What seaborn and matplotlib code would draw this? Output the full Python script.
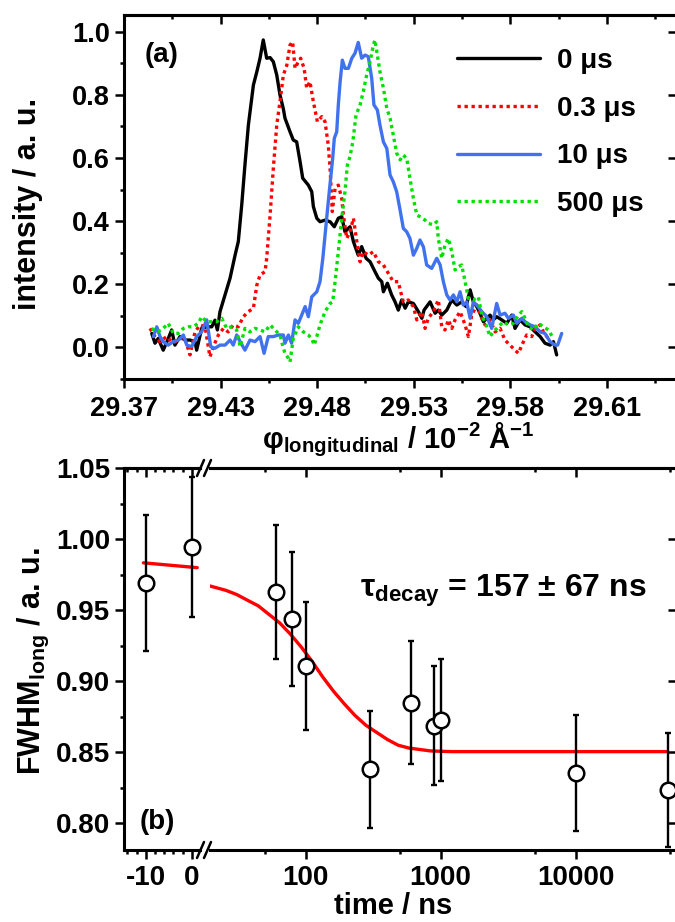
import matplotlib
matplotlib.use("Agg")
import matplotlib.pyplot as plt
import seaborn as sns
from matplotlib.ticker import FixedLocator, FixedFormatter, NullFormatter, NullLocator
from matplotlib.lines import Line2D

# ---------------- panel (a) data ----------------
black_x = [29.3838, 29.3854, 29.3870, 29.3895, 29.3920, 29.3937, 29.3953, 29.3978, 29.4003, 29.4028,
           29.4053, 29.4061, 29.4086, 29.4111, 29.4136, 29.4152, 29.4164, 29.4177, 29.4202, 29.4227,
           29.4252, 29.4268, 29.4285, 29.4301, 29.4318, 29.4343, 29.4360, 29.4376, 29.4392, 29.4409,
           29.4426, 29.4442, 29.4459, 29.4475, 29.4492, 29.4500, 29.4525, 29.4541, 29.4558, 29.4575,
           29.4588, 29.4616, 29.4633, 29.4641, 29.4658, 29.4674, 29.4699, 29.4724, 29.4745, 29.4765,
           29.4782, 29.4798, 29.4823, 29.4840, 29.4864, 29.4881, 29.4903, 29.4923, 29.4947, 29.4964,
           29.4981, 29.4989, 29.5009, 29.5030, 29.5047, 29.5063, 29.5080, 29.5097, 29.5113, 29.5138,
           29.5163, 29.5180, 29.5191, 29.5221, 29.5246, 29.5262, 29.5279, 29.5304, 29.5329, 29.5354,
           29.5378, 29.5400, 29.5420, 29.5436, 29.5453, 29.5469, 29.5486, 29.5503, 29.5519, 29.5535,
           29.5552, 29.5577, 29.5602, 29.5627, 29.5643, 29.5668, 29.5693, 29.5718, 29.5743, 29.5768,
           29.5792, 29.5817, 29.5834, 29.5850]
black_y = [0.044, 0.013, 0.028, -0.009, 0.028, 0.055, 0.007, 0.034, 0.023, 0.023,
           0.018, -0.009, 0.060, 0.065, 0.065, 0.086, 0.055, 0.113, 0.166, 0.219,
           0.292, 0.335, 0.451, 0.578, 0.704, 0.831, 0.873, 0.916, 0.974, 0.916,
           0.918, 0.905, 0.863, 0.800, 0.755, 0.726, 0.683, 0.657, 0.651, 0.588,
           0.536, 0.514, 0.493, 0.446, 0.409, 0.398, 0.403, 0.398, 0.382, 0.409,
           0.414, 0.366, 0.382, 0.335, 0.292, 0.319, 0.282, 0.271, 0.240, 0.219,
           0.208, 0.176, 0.203, 0.166, 0.144, 0.118, 0.150, 0.124, 0.144, 0.139,
           0.113, 0.092, 0.118, 0.144, 0.108, 0.118, 0.102, 0.118, 0.150, 0.134,
           0.144, 0.129, 0.182, 0.144, 0.129, 0.108, 0.081, 0.092, 0.102, 0.087,
           0.097, 0.087, 0.076, 0.102, 0.060, 0.087, 0.071, 0.065, 0.049, 0.034,
           0.013, 0.007, 0.018, -0.024]

red_x = [29.3829, 29.3854, 29.3879, 29.3912, 29.3945, 29.3978, 29.4003, 29.4028, 29.4053, 29.4078,
         29.4103, 29.4127, 29.4147, 29.4169, 29.4194, 29.4218, 29.4243, 29.4268, 29.4293, 29.4318,
         29.4343, 29.4360, 29.4376, 29.4401, 29.4409, 29.4426, 29.4442, 29.4459, 29.4475, 29.4492,
         29.4509, 29.4525, 29.4538, 29.4550, 29.4566, 29.4578, 29.4595, 29.4608, 29.4624, 29.4641,
         29.4661, 29.4683, 29.4699, 29.4715, 29.4724, 29.4735, 29.4749, 29.4765, 29.4782, 29.4790,
         29.4807, 29.4823, 29.4840, 29.4857, 29.4873, 29.4889, 29.4914, 29.4939, 29.4964, 29.4989,
         29.5014, 29.5038, 29.5063, 29.5075, 29.5088, 29.5113, 29.5138, 29.5155, 29.5180, 29.5196,
         29.5212, 29.5237, 29.5262, 29.5279, 29.5295, 29.5312, 29.5329, 29.5345, 29.5370, 29.5395,
         29.5411, 29.5428, 29.5453, 29.5478, 29.5494, 29.5519, 29.5544, 29.5569, 29.5593, 29.5618,
         29.5643, 29.5660, 29.5677, 29.5701, 29.5726, 29.5743, 29.5768, 29.5784, 29.5801, 29.5817]
red_y = [0.060, 0.034, 0.018, 0.034, 0.013, 0.028, 0.028, -0.024, 0.049, 0.071,
         0.065, -0.030, 0.007, 0.039, 0.060, 0.049, 0.071, 0.065, 0.097, 0.113,
         0.124, 0.197, 0.229, 0.240, 0.282, 0.419, 0.567, 0.704, 0.778, 0.863,
         0.894, 0.958, 0.968, 0.884, 0.905, 0.916, 0.884, 0.821, 0.842, 0.778,
         0.715, 0.731, 0.715, 0.641, 0.567, 0.430, 0.504, 0.514, 0.472, 0.419,
         0.345, 0.366, 0.409, 0.335, 0.271, 0.303, 0.292, 0.303, 0.271, 0.261,
         0.234, 0.208, 0.208, 0.176, 0.144, 0.150, 0.129, 0.087, 0.113, 0.060,
         0.092, 0.113, 0.150, 0.065, 0.055, 0.087, 0.060, 0.087, 0.113, 0.071,
         0.034, 0.102, 0.134, 0.092, 0.071, 0.087, 0.049, 0.060, 0.023, 0.007,
         -0.009, -0.019, 0.007, 0.039, 0.034, 0.060, 0.071, 0.049, 0.034, 0.023]

blue_x = [29.3846, 29.3863, 29.3879, 29.3895, 29.3920, 29.3945, 29.3970, 29.3995, 29.4012, 29.4036,
          29.4061, 29.4086, 29.4111, 29.4131, 29.4152, 29.4177, 29.4202, 29.4227, 29.4243, 29.4260,
          29.4277, 29.4301, 29.4326, 29.4351, 29.4376, 29.4396, 29.4417, 29.4442, 29.4467, 29.4492,
          29.4500, 29.4517, 29.4533, 29.4550, 29.4566, 29.4583, 29.4600, 29.4616, 29.4633, 29.4658,
          29.4674, 29.4688, 29.4704, 29.4720, 29.4737, 29.4745, 29.4757, 29.4765, 29.4774, 29.4785,
          29.4798, 29.4815, 29.4832, 29.4848, 29.4864, 29.4881, 29.4898, 29.4914, 29.4931, 29.4942,
          29.4959, 29.4972, 29.4989, 29.5006, 29.5022, 29.5038, 29.5055, 29.5072, 29.5088, 29.5105,
          29.5121, 29.5138, 29.5155, 29.5171, 29.5188, 29.5204, 29.5229, 29.5254, 29.5271, 29.5287,
          29.5304, 29.5320, 29.5337, 29.5354, 29.5370, 29.5386, 29.5403, 29.5420, 29.5436, 29.5453,
          29.5478, 29.5503, 29.5527, 29.5552, 29.5569, 29.5593, 29.5610, 29.5635, 29.5652, 29.5677,
          29.5693, 29.5718, 29.5743, 29.5768, 29.5792, 29.5817, 29.5842, 29.5855, 29.5875]
blue_y = [0.034, 0.065, 0.034, 0.018, 0.007, 0.018, 0.023, 0.039, 0.007, 0.002,
          0.034, 0.049, 0.087, 0.002, -0.003, 0.007, 0.007, 0.023, 0.007, 0.039,
          0.018, -0.009, 0.023, 0.018, 0.034, -0.019, 0.034, 0.034, 0.039, 0.039,
          0.013, 0.039, 0.013, 0.087, 0.076, 0.102, 0.129, 0.097, 0.160, 0.176,
          0.208, 0.282, 0.388, 0.493, 0.599, 0.662, 0.683, 0.768, 0.842, 0.910,
          0.884, 0.884, 0.916, 0.932, 0.966, 0.916, 0.926, 0.921, 0.852, 0.768,
          0.752, 0.704, 0.651, 0.630, 0.546, 0.525, 0.493, 0.435, 0.377, 0.366,
          0.345, 0.292, 0.314, 0.340, 0.318, 0.261, 0.250, 0.282, 0.261, 0.208,
          0.166, 0.150, 0.166, 0.144, 0.176, 0.134, 0.144, 0.092, 0.144, 0.134,
          0.113, 0.097, 0.060, 0.139, 0.102, 0.108, 0.092, 0.102, 0.076, 0.092,
          0.081, 0.071, 0.065, 0.049, 0.044, 0.018, 0.007, 0.007, 0.044]

green_x = [29.3838, 29.3863, 29.3887, 29.3920, 29.3945, 29.3970, 29.3995, 29.4020, 29.4044, 29.4069,
           29.4086, 29.4111, 29.4136, 29.4161, 29.4186, 29.4210, 29.4235, 29.4260, 29.4277, 29.4301,
           29.4326, 29.4351, 29.4376, 29.4401, 29.4426, 29.4450, 29.4475, 29.4492, 29.4500, 29.4517,
           29.4525, 29.4541, 29.4566, 29.4591, 29.4616, 29.4633, 29.4645, 29.4658, 29.4674, 29.4699,
           29.4724, 29.4737, 29.4749, 29.4765, 29.4782, 29.4798, 29.4810, 29.4823, 29.4837, 29.4853,
           29.4873, 29.4889, 29.4906, 29.4923, 29.4939, 29.4947, 29.4959, 29.4972, 29.4989, 29.5006,
           29.5022, 29.5038, 29.5055, 29.5072, 29.5088, 29.5105, 29.5121, 29.5138, 29.5155, 29.5171,
           29.5196, 29.5212, 29.5237, 29.5254, 29.5262, 29.5279, 29.5295, 29.5312, 29.5329, 29.5345,
           29.5361, 29.5378, 29.5395, 29.5411, 29.5436, 29.5461, 29.5478, 29.5503, 29.5519, 29.5535,
           29.5560, 29.5585, 29.5610, 29.5635, 29.5660, 29.5677, 29.5693, 29.5709, 29.5734, 29.5759,
           29.5784, 29.5809, 29.5834]
green_y = [0.060, 0.049, 0.055, 0.076, 0.044, 0.044, 0.060, 0.065, 0.065, 0.076,
           0.097, 0.081, 0.081, 0.081, 0.092, 0.060, 0.065, 0.055, 0.002, 0.060,
           0.049, 0.060, 0.055, 0.049, 0.071, 0.055, 0.039, -0.003, -0.019, -0.035,
           -0.046, 0.028, 0.065, 0.049, 0.039, 0.028, 0.007, 0.034, 0.071, 0.113,
           0.139, 0.144, 0.208, 0.303, 0.409, 0.493, 0.578, 0.604, 0.651, 0.736,
           0.768, 0.810, 0.863, 0.905, 0.958, 0.974, 0.926, 0.873, 0.821, 0.757,
           0.726, 0.673, 0.615, 0.594, 0.609, 0.599, 0.536, 0.472, 0.419, 0.414,
           0.403, 0.393, 0.388, 0.398, 0.345, 0.282, 0.324, 0.345, 0.303, 0.245,
           0.255, 0.261, 0.208, 0.155, 0.150, 0.160, 0.102, 0.065, 0.034, 0.049,
           0.065, 0.081, 0.071, 0.076, 0.102, 0.113, 0.092, 0.065, 0.055, 0.076,
           0.065, 0.055, 0.028]

series_labels = ["0 μs", "0.3 μs", "10 μs", "500 μs"]

top_xticks = [29.37, 29.418, 29.466, 29.514, 29.562, 29.61]
top_xticklabels = ["29.37", "29.43", "29.48", "29.53", "29.58", "29.61"]
top_xminor = [29.394, 29.442, 29.49, 29.538, 29.586, 29.634]
top_yticks = [0.0, 0.2, 0.4, 0.6, 0.8, 1.0]
top_yticklabels = ["0.0", "0.2", "0.4", "0.6", "0.8", "1.0"]
top_yminor = [-0.1, 0.1, 0.3, 0.5, 0.7, 0.9]

# ---------------- panel (b) data ----------------
neg_t = [-10, 0]
neg_fwhm = [0.969, 0.9945]
neg_err = [0.048, 0.049]
pos_t = [60, 80, 100, 300, 600, 900, 1000, 10000, 48000]
pos_fwhm = [0.963, 0.944, 0.9106, 0.838, 0.885, 0.8688, 0.8728, 0.8354, 0.8233]
pos_err = [0.047, 0.047, 0.045, 0.041, 0.043, 0.042, 0.043, 0.041, 0.040]

fit_neg_t = [-10.5, 1.2]
fit_neg_y = [0.9833, 0.9799]
fit_t = [19.6, 25.6, 30.9, 37.1, 44.7, 53.6, 64.4, 77.4, 93, 111.7, 134, 161, 194, 232,
         280, 336, 404, 485, 583, 700, 841, 1200, 48000]
fit_y = [0.967, 0.964, 0.961, 0.957, 0.953, 0.947, 0.941, 0.933, 0.924, 0.914, 0.903, 0.893,
         0.884, 0.876, 0.869, 0.864, 0.859, 0.855, 0.853, 0.852, 0.851, 0.8505, 0.8505]

b_yticks = [0.80, 0.85, 0.90, 0.95, 1.00, 1.05]
b_yticklabels = ["0.80", "0.85", "0.90", "0.95", "1.00", "1.05"]
b_yminor = [0.825, 0.875, 0.925, 0.975, 1.025]
neg_xticks = [-10, 0]
neg_xticklabels = ["-10", "0"]
neg_xminor = [-14, -12, -8, -6, -4, -2]
log_xticks = [100, 1000, 10000]
log_xticklabels = ["100", "1000", "10000"]
log_xminor = [50, 500, 5000, 50000]

# ---------------- style ----------------
sns.set_theme(style="ticks")
plt.rcParams['font.family'] = ['Liberation Sans', 'DejaVu Sans']
plt.rcParams.update({
    'font.weight': 'bold',
    'axes.labelweight': 'bold',
    'axes.edgecolor': 'black',
    'xtick.color': 'black',
    'ytick.color': 'black',
    'text.color': 'black',
    'axes.labelcolor': 'black',
    'mathtext.fontset': 'custom',
    'mathtext.rm': 'Liberation Sans:bold',
    'mathtext.it': 'Liberation Sans:italic:bold',
    'mathtext.bf': 'Liberation Sans:bold',
    'mathtext.default': 'rm',
})

W, H = 675, 922
fig = plt.figure(figsize=(W / 100, H / 100), dpi=100)


def rect(l, t, r, b):
    return [l / W, 1 - b / H, (r - l) / W, (b - t) / H]


def fx(px):
    return px / W


def fy(py):
    return 1 - py / H


SPW = 2.2
TW = 1.8
MAJ, MIN = 6.5, 3.2


def spines(ax, hide=()):
    for k, s in ax.spines.items():
        s.set_linewidth(SPW)
        s.set_color('black')
        if k in hide:
            s.set_visible(False)


# ---------------- panel (a) ----------------
ax_a = fig.add_axes(rect(124, 15, 677, 379))
styles = [
    (black_x, black_y, 'black', '-'),
    (red_x, red_y, '#ff0000', (0, (1.0, 1.1))),
    (blue_x, blue_y, '#4172ee', '-'),
    (green_x, green_y, '#00e000', (0, (1.0, 1.1))),
]
for (xs, ys, col, ls), lab in zip(styles, series_labels):
    sns.lineplot(x=xs, y=ys, ax=ax_a, color=col, linestyle=ls, linewidth=2.4,
                 label=lab, sort=False, estimator=None, dash_capstyle='butt')

ax_a.set_xlim(29.37, 29.6448)
ax_a.set_ylim(-0.1004, 1.053)
ax_a.set_xlabel('')
ax_a.set_ylabel('')
ax_a.xaxis.set_major_locator(FixedLocator(top_xticks))
ax_a.xaxis.set_major_formatter(FixedFormatter(top_xticklabels))
ax_a.xaxis.set_minor_locator(FixedLocator(top_xminor))
ax_a.xaxis.set_minor_formatter(NullFormatter())
ax_a.yaxis.set_major_locator(FixedLocator(top_yticks))
ax_a.yaxis.set_major_formatter(FixedFormatter(top_yticklabels))
ax_a.yaxis.set_minor_locator(FixedLocator(top_yminor))
ax_a.yaxis.set_minor_formatter(NullFormatter())
ax_a.tick_params(which='both', direction='out', width=TW, labelsize=19.5)
ax_a.tick_params(which='major', length=MAJ)
ax_a.tick_params(which='minor', length=MIN)
ax_a.tick_params(axis='x', pad=6)
ax_a.tick_params(axis='y', pad=3.5)
spines(ax_a)

sx = ax_a.secondary_xaxis('top')
sx.xaxis.set_major_locator(FixedLocator(top_xticks))
sx.xaxis.set_minor_locator(FixedLocator(top_xminor))
sx.tick_params(which='both', direction='in', width=TW, labeltop=False)
sx.tick_params(which='major', length=MAJ)
sx.tick_params(which='minor', length=MIN)
spines(sx)
sy = ax_a.secondary_yaxis('right')
sy.yaxis.set_major_locator(FixedLocator(top_yticks))
sy.tick_params(which='both', direction='in', width=TW, labelright=False, length=MAJ)
spines(sy)

h, l = ax_a.get_legend_handles_labels()
ax_a.legend(h, l, loc='upper left', bbox_to_anchor=(fx(457), fy(48)),
            bbox_transform=fig.transFigure, frameon=False, borderpad=0,
            borderaxespad=0, handlelength=3.0, handletextpad=0.6,
            labelspacing=0.78, prop=dict(size=20, weight='bold'))

fig.text(fx(162), fy(55), "(a)", fontsize=20, fontweight='bold', ha='center', va='center')
fig.text(fx(28), fy(204), "intensity / a. u.", fontsize=22, fontweight='bold',
         rotation=90, ha='center', va='center')
fig.text(fx(398), fy(440), r"φ$_{\mathrm{longitudinal}}$ / 10$^{\mathrm{-2}}$ Å$^{\mathrm{-1}}$",
         fontsize=21, fontweight='bold', ha='center', va='center')

# ---------------- panel (b) ----------------
ax_bl = fig.add_axes(rect(124, 468, 200, 850))
ax_br = fig.add_axes(rect(210, 468, 677, 850))
ax_br.set_xscale('log')

for ax in (ax_bl, ax_br):
    ax.set_ylim(0.7813, 1.05)

ax_bl.set_xlim(-14.72, 1.80)
ax_br.set_xlim(19.6, 56290)

# fit lines
sns.lineplot(x=fit_neg_t, y=fit_neg_y, ax=ax_bl, color='#ff0000', linewidth=2.4,
             sort=False, estimator=None, zorder=2)
sns.lineplot(x=fit_t, y=fit_y, ax=ax_br, color='#ff0000', linewidth=2.4,
             sort=False, estimator=None, zorder=2)

# error bars + markers
for ax, t, v, e in ((ax_bl, neg_t, neg_fwhm, neg_err), (ax_br, pos_t, pos_fwhm, pos_err)):
    ax.errorbar(t, v, yerr=e, fmt='none', ecolor='black', elinewidth=1.7,
                capsize=2.5, capthick=1.7, zorder=2.5)
    sns.scatterplot(x=t, y=v, ax=ax, marker='o', s=125, facecolor='white',
                    edgecolor='black', linewidth=1.8, zorder=3, clip_on=False)
    ax.set_xlabel('')
    ax.set_ylabel('')

ax_bl.xaxis.set_major_locator(FixedLocator(neg_xticks))
ax_bl.xaxis.set_major_formatter(FixedFormatter(neg_xticklabels))
ax_bl.xaxis.set_minor_locator(FixedLocator(neg_xminor))
ax_bl.xaxis.set_minor_formatter(NullFormatter())
ax_bl.yaxis.set_major_locator(FixedLocator(b_yticks))
ax_bl.yaxis.set_major_formatter(FixedFormatter(b_yticklabels))
ax_bl.yaxis.set_minor_locator(FixedLocator(b_yminor))
ax_bl.yaxis.set_minor_formatter(NullFormatter())

ax_br.xaxis.set_major_locator(FixedLocator(log_xticks))
ax_br.xaxis.set_major_formatter(FixedFormatter(log_xticklabels))
ax_br.xaxis.set_minor_locator(FixedLocator(log_xminor))
ax_br.xaxis.set_minor_formatter(NullFormatter())
ax_br.yaxis.set_major_locator(NullLocator())
ax_br.yaxis.set_minor_locator(NullLocator())

for ax in (ax_bl, ax_br):
    ax.tick_params(which='both', direction='out', width=TW, labelsize=20)
    ax.tick_params(which='major', length=MAJ)
    ax.tick_params(which='minor', length=MIN)
    ax.tick_params(axis='x', pad=4)
    ax.tick_params(axis='y', pad=3.5)
ax_br.tick_params(axis='y', left=False, labelleft=False)
spines(ax_bl, hide=('right',))
spines(ax_br, hide=('left',))

for ax, maj, mnr in ((ax_bl, neg_xticks, neg_xminor), (ax_br, log_xticks, log_xminor)):
    s = ax.secondary_xaxis('top')
    s.xaxis.set_major_locator(FixedLocator(maj))
    s.xaxis.set_minor_locator(FixedLocator(mnr))
    s.tick_params(which='both', direction='in', width=TW, labeltop=False)
    s.tick_params(which='major', length=MAJ)
    s.tick_params(which='minor', length=MIN)
    spines(s)
sr = ax_br.secondary_yaxis('right')
sr.yaxis.set_major_locator(FixedLocator(b_yticks))
sr.tick_params(which='both', direction='in', width=TW, labelright=False, length=MAJ)
spines(sr)

# axis break marks
for yb in (468, 850):
    for dx in (0, 7):
        fig.add_artist(Line2D([fx(197 + dx), fx(204 + dx)], [fy(yb + 8), fy(yb - 8)],
                              color='black', linewidth=1.8))

fig.text(fx(157), fy(822), "(b)", fontsize=20, fontweight='bold', ha='center', va='center')
fig.text(fx(360), fy(597), r"τ$_{\mathrm{decay}}$ = 157 ± 67 ns", fontsize=23,
         fontweight='bold', ha='left', va='baseline')
fig.text(fx(33), fy(661), r"FWHM$_{\mathrm{long}}$ / a. u.", fontsize=22, fontweight='bold',
         rotation=90, ha='center', va='center')
fig.text(fx(393), fy(914), "time / ns", fontsize=21, fontweight='bold',
         ha='center', va='baseline')

fig.savefig("out.png", dpi=100)
